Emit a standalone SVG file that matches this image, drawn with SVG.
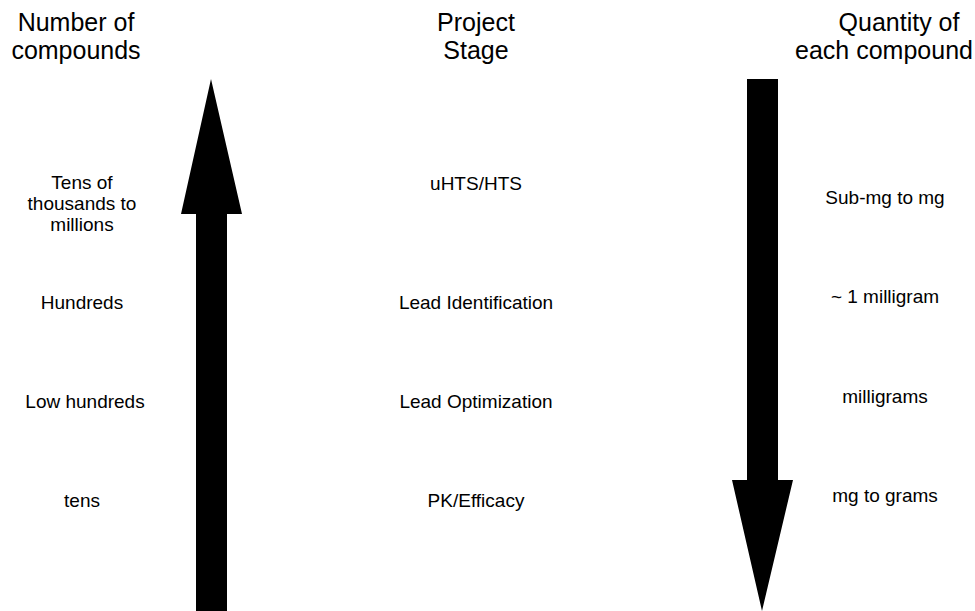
<svg xmlns="http://www.w3.org/2000/svg" width="975" height="611" viewBox="0 0 975 611">
<style>
.h{font-family:"Liberation Sans",Arial,sans-serif;font-size:25px;fill:#000;text-anchor:middle}
.t{font-family:"Liberation Sans",Arial,sans-serif;font-size:19px;fill:#000;text-anchor:middle}
.a{fill:#000;stroke:none}
</style>
<rect width="975" height="611" fill="#fff"/>
<g id="headers">
<text class="h" x="76" y="31">Number of</text>
<text class="h" x="76" y="59">compounds</text>
<text class="h" x="476" y="31">Project</text>
<text class="h" x="476" y="59">Stage</text>
<text class="h" x="899" y="31">Quantity of</text>
<text class="h" x="884" y="59">each compound</text>
</g>
<g id="connectors">
<polygon class="a" points="211,79 242,214 227,214 227,611 196,611 196,214 181,214"/>
<polygon class="a" points="747,79 778,79 778,480 793,480 762,611 732,480 747,480"/>
</g>
<g id="left">
<text class="t" x="82" y="189">Tens of</text>
<text class="t" x="82" y="210">thousands to</text>
<text class="t" x="82" y="231">millions</text>
<text class="t" x="82" y="309">Hundreds</text>
<text class="t" x="85" y="408">Low hundreds</text>
<text class="t" x="82" y="507">tens</text>
</g>
<g id="middle">
<text class="t" x="476" y="190">uHTS/HTS</text>
<text class="t" x="476" y="309">Lead Identification</text>
<text class="t" x="476" y="408">Lead Optimization</text>
<text class="t" x="476" y="507">PK/Efficacy</text>
</g>
<g id="right">
<text class="t" x="885" y="204">Sub-mg to mg</text>
<text class="t" x="885" y="303">~ 1 milligram</text>
<text class="t" x="885" y="403">milligrams</text>
<text class="t" x="885" y="502">mg to grams</text>
</g>
</svg>
